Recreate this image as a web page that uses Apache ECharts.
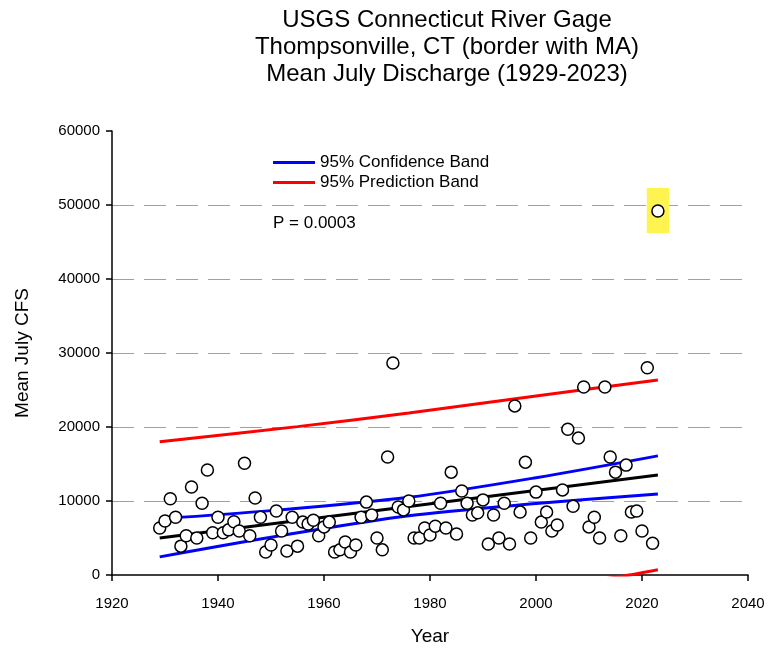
<!DOCTYPE html>
<html>
<head>
<meta charset="utf-8">
<script src="https://cdn.jsdelivr.net/npm/echarts@6/dist/echarts.min.js"></script>
<style>
html,body{margin:0;padding:0;background:#fff;}
#chart{width:769px;height:649px;}
</style>
</head>
<body>
<div id="chart"></div>
<script>
var years = [1929,1930,1931,1932,1933,1934,1935,1936,1937,1938,1939,1940,1941,1942,1943,1944,1945,1946,1947,1948,1949,
  1950,1951,1952,1953,1954,1955,1956,1957,1958,1959,1960,1961,1962,1963,1964,1965,1966,1967,1968,1969,
  1970,1971,1972,1973,1974,1975,1976,1977,1978,1979,1980,1981,1982,1983,1984,1985,1986,1987,1988,1989,
  1990,1991,1992,1993,1994,1995,1996,1997,1998,1999,2000,2001,2002,2003,2004,2005,2006,2007,2008,2009,
  2010,2011,2012,2013,2014,2015,2016,2017,2018,2019,2020,2021,2022,2023];
var julyFlow = [6350,7300,10300,7800,3900,5300,11900,5000,9700,14200,5700,7800,5700,6100,7200,5950,15100,5300,10400,7800,3100,
  4050,8650,5950,3250,7800,3900,7150,6900,7400,5300,6500,7150,3100,3400,4450,3100,4050,7800,9850,8100,
  5000,3400,15950,28650,9200,8800,10000,5000,5000,6350,5400,6600,9700,6350,13900,5550,11350,9700,8100,8400,
  10150,4200,8100,5000,9700,4200,22850,8500,15250,5000,11200,7150,8500,5950,6750,11500,19700,9300,18500,25400,
  6500,7800,5000,25400,15950,13900,5300,14850,8500,8650,5950,28000,4300,49200];

var regression = [[1929,5000],[2023,13500]];
var confUpper = [[1929,7600],[1950,8700],[1976,10500],[2000,13150],[2023,16100]];
var confLower = [[1929,2450],[1950,5100],[1976,8000],[2000,9650],[2023,10950]];
var predUpper = [[1929,18000],[1955,20050],[1976,21900],[2000,24200],[2023,26350]];
var predLower = [[1929,-8000],[1955,-5500],[1976,-3500],[2000,-1700],[2016,-200],[2023,700]];
var highlight = [[2020.9,52300],[2025.1,46200]];

var xTicks = {min:1920, max:2040, interval:20};
var yTicks = {min:0, max:60000, interval:10000};

var FONT = 'Liberation Sans';
var points = years.map(function(y,i){return [y, julyFlow[i]];});

var chart = echarts.init(document.getElementById('chart'));
chart.setOption({
  animation:false,
  backgroundColor:'#ffffff',
  title:{
    text:'USGS Connecticut River Gage\nThompsonville, CT (border with MA)\nMean July Discharge (1929-2023)',
    left:442, top:2, textAlign:'center',
    textStyle:{fontFamily:FONT, fontSize:24, fontWeight:'normal', lineHeight:27, color:'#000'}
  },
  legend:{
    data:['95% Confidence Band','95% Prediction Band'],
    orient:'vertical', left:268, top:149,
    icon:'rect', itemWidth:42, itemHeight:3, itemGap:3,
    textStyle:{fontFamily:FONT, fontSize:17, color:'#000', lineHeight:17}
  },
  graphic:[{
    type:'text', left:273, top:215,
    style:{text:'P = 0.0003', font:'17px "Liberation Sans"', fill:'#000'}
  }],
  grid:{left:112, right:21, top:131, bottom:74, containLabel:false, outerBoundsMode:'none'},
  xAxis:{
    type:'value', min:xTicks.min, max:xTicks.max, interval:xTicks.interval,
    name:'Year', nameLocation:'middle', nameGap:52,
    nameTextStyle:{fontFamily:FONT, fontSize:19, color:'#000'},
    axisLine:{show:true, onZero:false, lineStyle:{color:'#000', width:1.5}},
    axisTick:{show:true, length:6, lineStyle:{color:'#000', width:1.5}},
    axisLabel:{fontFamily:FONT, fontSize:15, color:'#000', margin:21, formatter:function(v){return String(v);}},
    splitLine:{show:false}
  },
  yAxis:{
    type:'value', min:yTicks.min, max:yTicks.max, interval:yTicks.interval,
    name:'Mean July CFS', nameLocation:'middle', nameGap:80,
    nameTextStyle:{fontFamily:FONT, fontSize:19, color:'#000'},
    axisLine:{show:true, lineStyle:{color:'#000', width:1.5}},
    axisTick:{show:true, length:6, lineStyle:{color:'#000', width:1.5}},
    axisLabel:{fontFamily:FONT, fontSize:15, color:'#000', margin:12, formatter:function(v){return String(v);}},
    splitLine:{show:true, lineStyle:{type:[22,10], width:1,
      color:['rgba(0,0,0,0)','#a0a0a0','#a0a0a0','#a0a0a0','#a0a0a0','#a0a0a0','rgba(0,0,0,0)']}}
  },
  series:[
    {name:'Regression', type:'line', data:regression, symbol:'none', z:3,
      lineStyle:{color:'#000', width:3},
      markArea:{silent:true, itemStyle:{color:'#fff44f'}, data:[[{coord:highlight[0]},{coord:highlight[1]}]]}},
    {name:'95% Confidence Band', type:'line', data:confUpper, symbol:'none', smooth:0.3, z:3,
      itemStyle:{color:'#0000ff'}, lineStyle:{color:'#0000ff', width:3}},
    {name:'95% Confidence Band', type:'line', data:confLower, symbol:'none', smooth:0.3, z:3,
      itemStyle:{color:'#0000ff'}, lineStyle:{color:'#0000ff', width:3}},
    {name:'95% Prediction Band', type:'line', data:predUpper, symbol:'none', smooth:0.3, z:3,
      itemStyle:{color:'#ff0000'}, lineStyle:{color:'#ff0000', width:3}},
    {name:'95% Prediction Band', type:'line', data:predLower, symbol:'none', smooth:0.3, z:3, clip:true,
      itemStyle:{color:'#ff0000'}, lineStyle:{color:'#ff0000', width:3}},
    {name:'Observed', type:'scatter', data:points, symbol:'circle', symbolSize:12, z:5,
      itemStyle:{color:'#ffffff', borderColor:'#000', borderWidth:1.5, opacity:1}}
  ]
});
</script>
</body>
</html>
